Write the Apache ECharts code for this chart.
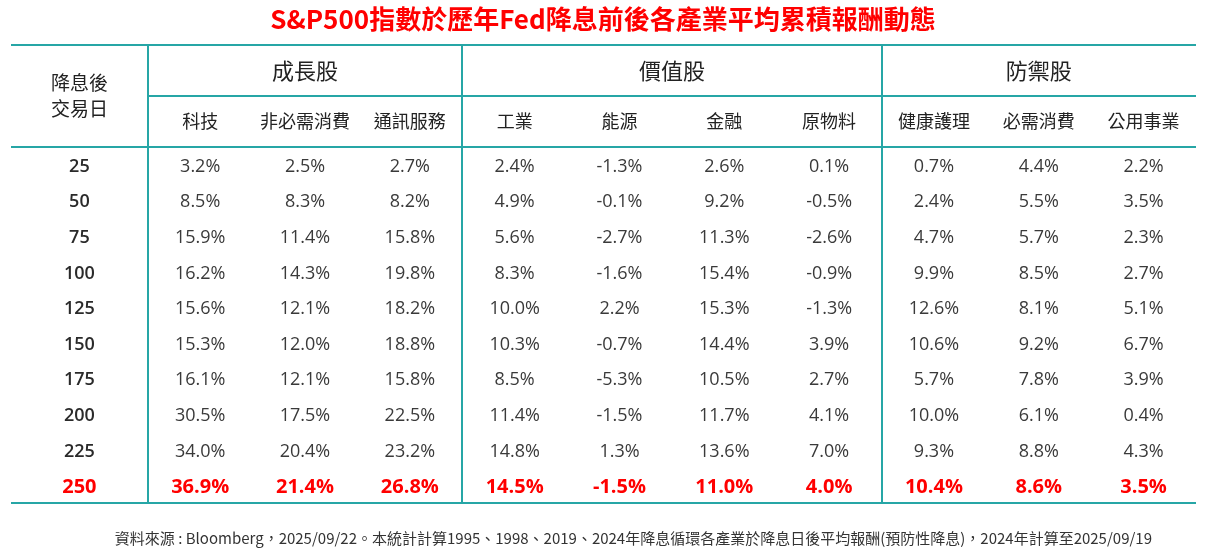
<!DOCTYPE html>
<html lang="zh-Hant" style="height: 100%">
<head>
    <meta charset="UTF-8">
    <title>S&amp;P500 各產業平均累積報酬</title>
    <script type="text/javascript" src="https://cdn.jsdelivr.net/npm/echarts@6/dist/echarts.min.js"></script>
</head>
<body style="height: 100%; margin: 0; background: #fff">
<div id="container" style="width: 1206px; height: 551px"></div>
<script type="text/javascript">
    // 資料
    var days = ['25', '50', '75', '100', '125', '150', '175', '200', '225', '250'];
    var groups = ['成長股', '價值股', '防禦股'];
    var groupSpans = [3, 4, 3];
    var sectors = ['科技', '非必需消費', '通訊服務', '工業', '能源', '金融', '原物料', '健康護理', '必需消費', '公用事業'];

    var tech = [3.2, 8.5, 15.9, 16.2, 15.6, 15.3, 16.1, 30.5, 34.0, 36.9];
    var consDisc = [2.5, 8.3, 11.4, 14.3, 12.1, 12.0, 12.1, 17.5, 20.4, 21.4];
    var telecom = [2.7, 8.2, 15.8, 19.8, 18.2, 18.8, 15.8, 22.5, 23.2, 26.8];
    var industrial = [2.4, 4.9, 5.6, 8.3, 10.0, 10.3, 8.5, 11.4, 14.8, 14.5];
    var energy = [-1.3, -0.1, -2.7, -1.6, 2.2, -0.7, -5.3, -1.5, 1.3, -1.5];
    var financial = [2.6, 9.2, 11.3, 15.4, 15.3, 14.4, 10.5, 11.7, 13.6, 11.0];
    var materials = [0.1, -0.5, -2.6, -0.9, -1.3, 3.9, 2.7, 4.1, 7.0, 4.0];
    var health = [0.7, 2.4, 4.7, 9.9, 12.6, 10.6, 5.7, 10.0, 9.3, 10.4];
    var staples = [4.4, 5.5, 5.7, 8.5, 8.1, 9.2, 7.8, 6.1, 8.8, 8.6];
    var utilities = [2.2, 3.5, 2.3, 2.7, 5.1, 6.7, 3.9, 0.4, 4.3, 3.5];

    var values = [tech, consDisc, telecom, industrial, energy, financial, materials, health, staples, utilities];
    var footnote = '資料來源 : Bloomberg，2025/09/22。本統計計算1995、1998、2019、2024年降息循環各產業於降息日後平均報酬(預防性降息)，2024年計算至2025/09/19';

    var LINE = '#26a6a6';
    var CJK = '"Noto Sans CJK TC", "Noto Sans", sans-serif';
    var NUM = '"Open Sans", "Noto Sans CJK TC", sans-serif';
    var LABEL_W = 137 / 105;   // 第一欄寬 (以資料欄為單位)
    var HEAD_H = 51 / 35.6;    // 表頭列高 (以資料列為單位)
    var nCol = sectors.length, nRow = days.length;

    // 文字格 (x, y 為資料座標)
    var cells = [];
    function cell(x, y, t, style) { cells.push({x: x, y: y, t: t, s: style}); }

    var st = {
        group: {fontSize: 22, fontWeight: 'normal', fontFamily: CJK, fill: '#222'},
        head: {fontSize: 18, fontWeight: 'normal', fontFamily: CJK, fill: '#222'},
        rowHead: {fontSize: 19, fontWeight: 'normal', fontFamily: CJK, fill: '#222', lineHeight: 26},
        day: {fontSize: 18, fontWeight: 600, fontFamily: NUM, fill: '#2a2a2a'},
        val: {fontSize: 18, fontWeight: 'normal', fontFamily: NUM, fill: '#3a3a3a'},
        dayRed: {fontSize: 20, fontWeight: 'bold', fontFamily: NUM, fill: '#ff0000'},
        valRed: {fontSize: 20, fontWeight: 'bold', fontFamily: NUM, fill: '#ff0000'}
    };

    cell(-LABEL_W / 2, -HEAD_H, '降息後\n交易日', st.rowHead);
    var start = 0;
    for (var g = 0; g < groups.length; g++) {
        cell(start + groupSpans[g] / 2, -1.5 * HEAD_H, groups[g], st.group);
        start += groupSpans[g];
    }
    for (var i = 0; i < nCol; i++) {
        cell(i + 0.5, -0.5 * HEAD_H, sectors[i], st.head);
    }
    for (var j = 0; j < nRow; j++) {
        var last = j === nRow - 1;
        cell(-LABEL_W / 2, j + 0.55, days[j], last ? st.dayRed : st.day);
        for (var k = 0; k < nCol; k++) {
            cell(k + 0.5, j + 0.55, values[k][j].toFixed(1) + '%', last ? st.valRed : st.val);
        }
    }

    // 格線
    var lines = [
        [[-LABEL_W, -2 * HEAD_H], [nCol, -2 * HEAD_H]],
        [[0, -HEAD_H], [nCol, -HEAD_H]],
        [[-LABEL_W, 0], [nCol, 0]],
        [[-LABEL_W, nRow], [nCol, nRow]]
    ];
    var edge = 0;
    for (var g2 = 0; g2 < groups.length; g2++) {
        lines.push([[edge, -2 * HEAD_H], [edge, nRow]]);
        edge += groupSpans[g2];
    }

    var myChart = echarts.init(document.getElementById('container'));
    myChart.setOption({
        animation: false,
        title: [{
            text: 'S&P500指數於歷年Fed降息前後各產業平均累積報酬動態',
            left: 'center',
            top: 1,
            textStyle: {color: '#ff0000', fontSize: 26, fontWeight: 'bold', fontFamily: CJK}
        }, {
            text: footnote,
            right: 49,
            bottom: 0,
            textStyle: {color: '#333', fontSize: 15, fontWeight: 'normal', fontFamily: CJK}
        }],
        grid: {left: 11, right: 10, top: 45, bottom: 48},
        xAxis: {type: 'value', min: -LABEL_W, max: nCol, show: false},
        yAxis: {type: 'value', min: -2 * HEAD_H, max: nRow, inverse: true, show: false},
        series: [{
            type: 'custom',
            silent: true,
            data: cells.map(function (c) { return [c.x, c.y]; }),
            renderItem: function (params, api) {
                var c = cells[params.dataIndex];
                var p = api.coord([api.value(0), api.value(1)]);
                return {
                    type: 'text',
                    x: p[0],
                    y: p[1],
                    style: Object.assign({text: c.t, align: 'center', verticalAlign: 'middle'}, c.s)
                };
            },
            markLine: {
                silent: true,
                symbol: ['none', 'none'],
                label: {show: false},
                lineStyle: {color: LINE, width: 2, type: 'solid'},
                data: lines.map(function (l) {
                    return [{coord: l[0]}, {coord: l[1]}];
                })
            }
        }]
    });
</script>
</body>
</html>
